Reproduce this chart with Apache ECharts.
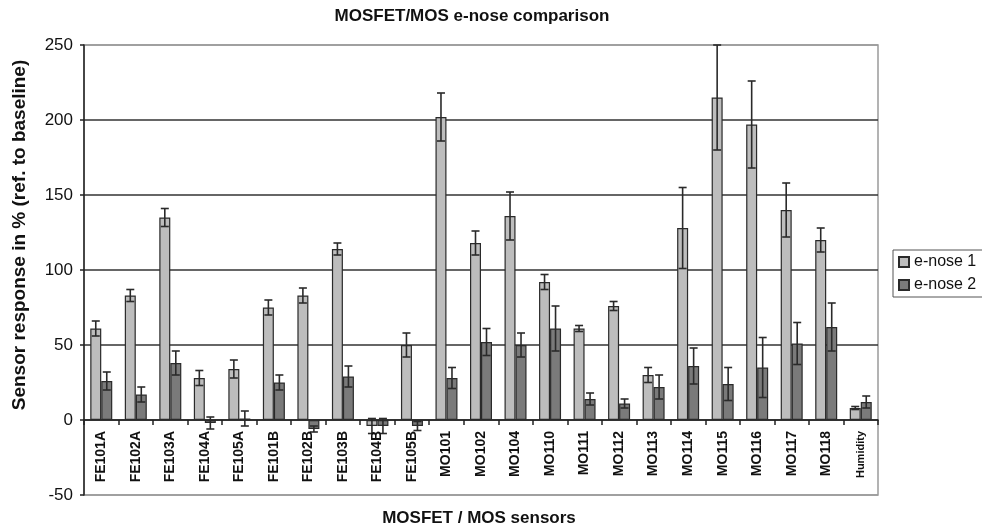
<!DOCTYPE html>
<html><head><meta charset="utf-8">
<script src="https://cdn.jsdelivr.net/npm/echarts@6/dist/echarts.min.js"></script>
<style>html,body{margin:0;padding:0;background:#fff}#c{width:982px;height:526px}</style>
</head><body><div id="c"></div>
<script>
const categories = ["FE101A","FE102A","FE103A","FE104A","FE105A","FE101B","FE102B","FE103B","FE104B","FE105B","MO101","MO102","MO104","MO110","MO111","MO112","MO113","MO114","MO115","MO116","MO117","MO118","Humidity"];
const enose1 = [61,83,135,28,34,75,83,114,-4,50,202,118,136,92,61,76,30,128,215,197,140,120,8];
const enose1Err = [5,4,6,5,6,5,5,4,5,8,16,8,16,5,2,3,5,27,35,29,18,8,1];
const enose2 = [26,17,38,-2,1,25,-6,29,-4,-4,28,52,50,61,14,11,22,36,24,35,51,62,12];
const enose2Err = [6,5,8,4,5,5,2,7,5,3,7,9,8,15,4,3,8,12,11,20,14,16,4];
const yTicks = [-50,0,50,100,150,200,250];

const chart = echarts.init(document.getElementById('c'), null, {renderer:'canvas'});
const FONT = 'Liberation Sans, Arial, sans-serif';
const BW = 11;

function errSeries(vals, errs, offset){
  return {
    type:'custom', z:10,
    data: vals.map((v,i)=>[i, v, errs[i]]),
    encode:{x:0,y:1},
    renderItem:function(params, api){
      const i = api.value(0), v = api.value(1), e = api.value(2);
      const p1 = api.coord([i, v+e]);
      const p2 = api.coord([i, v-e]);
      const x = p1[0] + offset;
      const st = {stroke:'#2a2a2a', lineWidth:1.6};
      const cw = 4;
      return {type:'group', children:[
        {type:'line', shape:{x1:x,y1:p1[1],x2:x,y2:p2[1]}, style:st},
        {type:'line', shape:{x1:x-cw,y1:p1[1],x2:x+cw,y2:p1[1]}, style:st},
        {type:'line', shape:{x1:x-cw,y1:p2[1],x2:x+cw,y2:p2[1]}, style:st}
      ]};
    }
  };
}

const labelSeries = {
  type:'custom', z:12, silent:true,
  data: categories.map((c,i)=>[i, 0]),
  encode:{x:0,y:1},
  renderItem:function(params, api){
    const i = api.value(0);
    const p = api.coord([i, 0]);
    const name = categories[i];
    const small = name === 'Humidity';
    return {type:'text', x:p[0], y:p[1]+11, rotation:Math.PI/2,
      style:{text:name, font:'bold '+(small?11:14)+'px '+FONT, fill:'#111', align:'right', verticalAlign:'middle'}};
  }
};

chart.setOption({
  animation:false,
  backgroundColor:'#fff',
  textStyle:{fontFamily:FONT},
  title:{text:'MOSFET/MOS e-nose comparison', left:467, top:3, textAlign:'center',
    textStyle:{fontSize:17, fontWeight:'bold', color:'#111', fontFamily:FONT}},
  legend:{orient:'vertical', left:893, top:250, data:['e-nose 1','e-nose 2'],
    borderColor:'#555', borderWidth:1, padding:[4,10,4,5], itemGap:7,
    itemWidth:10, itemHeight:10, icon:'rect',
    textStyle:{fontSize:16, color:'#111', fontFamily:FONT}},
  grid:{left:84, right:104, top:45, bottom:31, show:true, borderColor:'#9a9a9a', borderWidth:1.5, backgroundColor:'#fff', outerBoundsMode:'none', containLabel:false},
  xAxis:{type:'category', data:categories,
    axisLine:{onZero:true, lineStyle:{color:'#222', width:1.5}},
    axisTick:{show:true, interval:0, length:5, lineStyle:{color:'#222', width:1.5}},
    axisLabel:{show:false},
    name:''
  },
  yAxis:{type:'value', min:yTicks[0], max:yTicks[yTicks.length-1], interval:50,
    axisLine:{show:true, lineStyle:{color:'#222', width:1.5}},
    axisTick:{show:true, length:4, lineStyle:{color:'#222', width:1.5}},
    axisLabel:{fontSize:17, color:'#111', margin:11, fontFamily:FONT},
    splitLine:{show:true, lineStyle:{color:['#9a9a9a','#333','#333','#333','#333','#333','#9a9a9a'], width:1.6}}
  },
  graphic:[
    {type:'text', x:20, y:235, rotation:Math.PI/2,
      style:{text:'Sensor response in % (ref. to baseline)', font:'bold 19px '+FONT, fill:'#111', textAlign:'center', textVerticalAlign:'middle'}},
    {type:'text', x:479, y:518,
      style:{text:'MOSFET / MOS sensors', font:'bold 17px '+FONT, fill:'#111', textAlign:'center', textVerticalAlign:'middle'}}
  ],
  series:[
    {name:'e-nose 1', type:'bar', data:enose1, barWidth:BW, barGap:'0%',
      itemStyle:{color:'#bdbdbd', borderColor:'#2a2a2a', borderWidth:1.2}},
    {name:'e-nose 2', type:'bar', data:enose2, barWidth:BW, barGap:'0%',
      itemStyle:{color:'#7a7a7a', borderColor:'#2a2a2a', borderWidth:1.2}},
    errSeries(enose1, enose1Err, -BW/2),
    errSeries(enose2, enose2Err, BW/2),
    labelSeries
  ]
});
</script></body></html>
